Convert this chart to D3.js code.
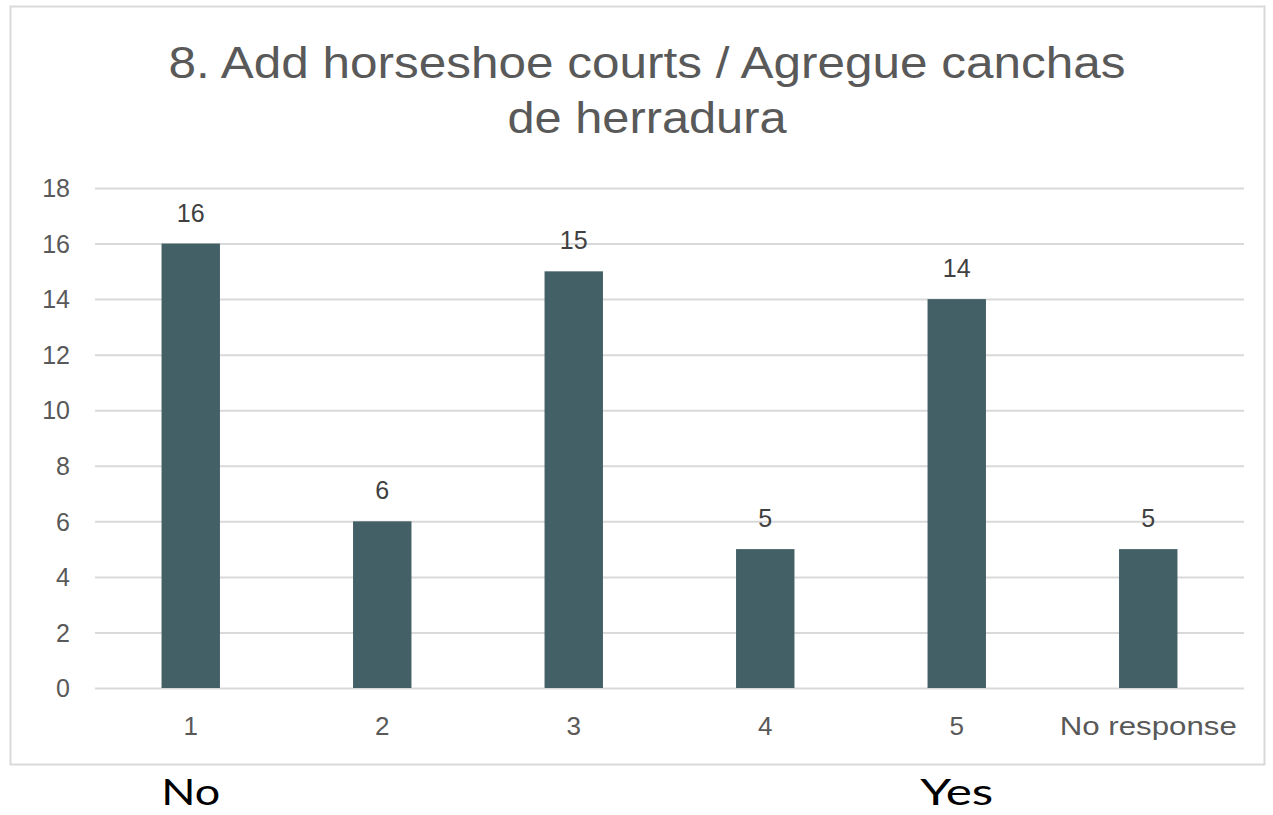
<!DOCTYPE html>
<html>
<head>
<meta charset="utf-8">
<script src="https://cdn.jsdelivr.net/npm/d3@7"></script>
<style>
  body { margin: 0; background: #fff; }
  svg text { font-family: "Liberation Sans", Arial, sans-serif; }
</style>
</head>
<body>
<div id="chart"></div>
<script>
// Chart data
var categories = ["1", "2", "3", "4", "5", "No response"];
var counts = [16, 6, 15, 5, 14, 5];
var yTicks = [0, 2, 4, 6, 8, 10, 12, 14, 16, 18];
var titleLines = ["8. Add horseshoe courts / Agregue canchas", "de herradura"];
var endLabels = [{ cat: "1", text: "No" }, { cat: "5", text: "Yes" }];

var svgWidth = 1273;
var svgHeight = 815;

var margin = { top: 188, right: 30, bottom: 127, left: 95 };
var width = 1244 - margin.left;
var height = 688 - margin.top;

var svg = d3.select("#chart")
  .append("svg")
  .attr("width", svgWidth)
  .attr("height", svgHeight);

// chart frame
svg.append("rect")
  .attr("x", 10.5)
  .attr("y", 6.5)
  .attr("width", 1254)
  .attr("height", 758)
  .attr("fill", "#fff")
  .attr("stroke", "#d9d9d9")
  .attr("stroke-width", 2);

// title (widths stretched to match the original rendering)
var titleWidths = [957, 279];
svg.append("text")
  .attr("x", 647)
  .attr("y", 78)
  .attr("text-anchor", "middle")
  .attr("fill", "#595959")
  .style("font-size", "44px")
  .selectAll("tspan")
  .data(titleLines)
  .enter()
  .append("tspan")
  .attr("x", 647)
  .attr("dy", (d, i) => i === 0 ? 0 : 55)
  .attr("textLength", (d, i) => titleWidths[i])
  .attr("lengthAdjust", "spacingAndGlyphs")
  .text(d => d);

var chartGroup = svg.append("g")
  .attr("transform", `translate(${margin.left}, ${margin.top})`);

var xScale = d3.scaleBand()
  .domain(categories)
  .range([0, width])
  .paddingInner(0.695)
  .paddingOuter(0.3475);

var yScale = d3.scaleLinear()
  .domain([0, 18])
  .range([height, 0]);

// gridlines
var leftAxis = d3.axisLeft(yScale)
  .tickValues(yTicks)
  .tickSize(-width)
  .tickPadding(25);

var yAxis = chartGroup.append("g").call(leftAxis);
yAxis.select(".domain").remove();
yAxis.selectAll("line").attr("stroke", "#d9d9d9").attr("stroke-width", 2);
yAxis.selectAll("text")
  .attr("fill", "#595959")
  .style("font-size", "25px")
  .attr("dy", "0.35em");

// bars
chartGroup.selectAll("rect.bar")
  .data(counts)
  .enter()
  .append("rect")
  .attr("class", "bar")
  .attr("x", (d, i) => xScale(categories[i]))
  .attr("y", d => yScale(d))
  .attr("width", xScale.bandwidth())
  .attr("height", d => height - yScale(d))
  .attr("fill", "#426066");

// value labels
chartGroup.selectAll("text.val")
  .data(counts)
  .enter()
  .append("text")
  .attr("class", "val")
  .attr("x", (d, i) => xScale(categories[i]) + xScale.bandwidth() / 2)
  .attr("y", d => yScale(d) - 22)
  .attr("text-anchor", "middle")
  .attr("fill", "#404040")
  .style("font-size", "25px")
  .text(d => d);

// category axis
var bottomAxis = d3.axisBottom(xScale).tickSize(0).tickPadding(29);
var xAxis = chartGroup.append("g")
  .attr("transform", `translate(0, ${height})`)
  .call(bottomAxis);
xAxis.select(".domain").remove();
xAxis.selectAll("text")
  .attr("fill", "#595959")
  .style("font-size", "26px")
  .each(function (d) {
    if (d === "No response") {
      d3.select(this).attr("textLength", 177).attr("lengthAdjust", "spacingAndGlyphs");
    }
  });

// No / Yes labels under the frame
var endWidths = { No: 59, Yes: 73 };
chartGroup.selectAll("text.end")
  .data(endLabels)
  .enter()
  .append("text")
  .attr("class", "end")
  .attr("x", d => xScale(d.cat) + xScale.bandwidth() / 2)
  .attr("y", 805 - margin.top)
  .attr("text-anchor", "middle")
  .attr("fill", "#000")
  .attr("textLength", d => endWidths[d.text])
  .attr("lengthAdjust", "spacingAndGlyphs")
  .style("font-family", "Lato, 'Open Sans', sans-serif")
  .style("font-size", "37px")
  .text(d => d.text);
</script>
</body>
</html>
